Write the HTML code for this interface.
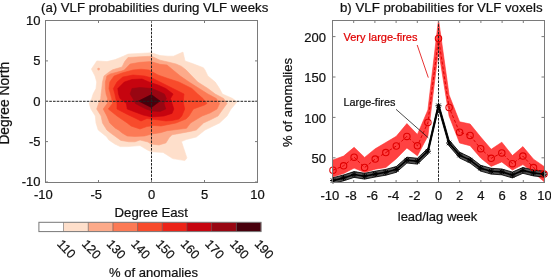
<!DOCTYPE html><html><head><meta charset="utf-8"><style>html,body{margin:0;padding:0;background:#fff;overflow:hidden;}svg{display:block;will-change:transform;}text{font-family:"Liberation Sans",sans-serif;stroke:#111;stroke-width:0.22px;}</style></head><body>
<svg width="551" height="279" viewBox="0 0 551 279">
<rect width="551" height="279" fill="#fff"/>
<defs><clipPath id="ca"><rect x="45.5" y="20.5" width="212" height="161.5"/></clipPath><clipPath id="cb"><rect x="333" y="20.5" width="211" height="161.5"/></clipPath></defs>
<g clip-path="url(#ca)">
<polygon points="91.4,69.1 96.8,60.9 107.0,61.6 115.2,59.6 123.4,56.2 128.0,54.1 140.0,53.4 151.4,52.8 160.0,55.5 168.0,56.2 173.4,56.2 183.0,52.1 185.0,60.9 192.5,63.6 203.4,67.7 205.0,70.0 207.9,76.0 215.2,82.0 219.5,88.5 222.4,94.0 232.7,98.5 237.0,102.0 231.0,109.0 227.0,116.0 219.5,123.0 205.0,130.0 196.3,137.0 186.3,139.5 181.5,141.6 183.5,147.7 186.9,157.9 184.9,160.6 172.7,158.6 163.1,152.4 151.6,151.8 148.2,150.4 140.0,145.6 127.7,146.6 120.2,146.6 114.7,143.9 108.6,139.8 106.9,137.0 98.2,130.0 96.0,123.0 95.3,116.0 90.9,109.0 89.2,103.5 91.7,98.5 93.1,94.0 96.0,88.5 96.7,82.0 95.0,76.0" fill="#FEDFCB" stroke="#FEDFCB" stroke-width="0.6" stroke-linejoin="round"/>
<polygon points="128.0,57.5 140.0,56.8 151.4,56.2 160.0,60.2 168.0,62.0 176.0,64.0 181.6,66.4 186.1,70.0 191.9,76.0 197.7,82.0 207.9,88.5 215.2,94.0 223.7,98.5 227.0,103.5 223.0,109.0 218.0,116.0 210.0,120.0 203.5,123.0 196.3,130.0 190.3,131.4 179.5,133.4 172.0,134.8 169.3,137.5 165.9,142.9 159.0,145.0 150.9,144.0 148.0,142.0 140.0,140.0 135.0,141.8 129.0,141.8 120.9,140.4 116.1,137.0 110.6,133.0 106.9,130.0 102.5,123.0 101.1,116.0 96.7,109.0 98.6,103.5 100.7,98.5 101.1,94.0 101.8,88.5 102.5,82.0 104.0,76.0 108.4,72.5 112.5,69.8 122.0,67.0 124.7,61.6" fill="#FCAA8A" stroke="#FCAA8A" stroke-width="0.6" stroke-linejoin="round"/>
<polygon points="130.1,64.0 140.0,62.3 151.0,61.6 160.0,64.3 167.0,65.0 173.0,70.0 180.3,76.0 189.0,82.0 199.2,88.5 207.9,94.0 216.3,98.5 219.6,103.5 217.0,109.0 210.0,113.0 202.1,116.0 190.5,123.0 186.5,128.3 173.1,130.0 167.2,130.7 160.4,132.7 151.7,134.0 144.6,136.0 135.0,136.4 127.2,136.0 122.2,133.0 118.5,130.0 115.4,128.2 109.8,123.0 106.9,116.0 103.2,109.0 107.2,103.5 107.6,98.5 106.1,94.0 105.4,88.5 105.4,82.0 106.9,76.0 110.4,73.9 121.3,71.1 124.3,70.0" fill="#FC7A55" stroke="#FC7A55" stroke-width="0.6" stroke-linejoin="round"/>
<polygon points="109.8,82.0 114.1,76.0 122.0,73.0 133.0,70.0 141.0,69.2 149.0,70.0 158.0,75.0 168.0,78.5 178.9,82.0 191.9,88.5 197.7,94.0 203.0,98.5 207.0,103.5 204.5,105.0 193.4,109.0 189.0,116.0 186.0,119.0 176.0,123.0 161.0,126.0 154.0,125.5 147.0,126.5 140.0,129.0 131.0,126.0 127.2,123.0 117.0,116.0 108.3,109.0 112.5,103.5 111.7,98.5 110.5,94.0 109.0,88.5" fill="#F84B2B" stroke="#F84B2B" stroke-width="0.6" stroke-linejoin="round"/>
<polygon points="122.8,77.0 128.0,76.0 133.0,75.0 144.6,76.0 152.0,78.0 160.0,82.0 173.0,88.5 184.0,94.0 183.5,98.5 183.5,103.5 184.7,109.0 181.8,116.0 179.0,119.0 172.0,120.5 166.0,121.0 159.0,120.0 147.0,118.5 141.0,121.0 135.0,118.0 127.5,114.5 117.0,109.0 117.0,103.5 115.8,98.5 114.9,94.0 113.4,88.5 117.0,82.0" fill="#EC2318" stroke="#EC2318" stroke-width="0.6" stroke-linejoin="round"/>
<polygon points="124.3,82.0 132.0,79.5 142.0,79.0 149.0,82.0 158.0,85.0 165.8,88.5 173.1,94.0 170.5,98.5 172.1,103.5 173.8,109.0 172.0,113.4 164.0,116.0 151.7,117.0 143.1,115.0 135.0,112.0 127.2,109.0 126.4,103.5 120.0,98.5 118.5,94.0 117.8,88.5" fill="#C6040F" stroke="#C6040F" stroke-width="0.6" stroke-linejoin="round"/>
<polygon points="132.0,88.5 140.0,87.5 152.0,88.5 158.0,91.0 164.4,94.0 166.4,98.5 164.0,103.5 165.8,109.0 160.0,111.5 152.0,111.0 146.1,109.0 140.0,106.0 135.4,103.5 132.9,98.5 130.1,94.0" fill="#980612" stroke="#980612" stroke-width="0.6" stroke-linejoin="round"/>
<polygon points="138.5,101.0 151.4,94.6 160.0,101.0 151.4,107.5" fill="#48000C" stroke="#48000C" stroke-width="0.6" stroke-linejoin="round"/>
<circle cx="98.6" cy="69.1" r="1.3" fill="#FCAA8A"/>
</g>
<line x1="151.5" y1="20.5" x2="151.5" y2="182" stroke="#222" stroke-width="1" stroke-dasharray="2.6,1.15"/>
<line x1="45.5" y1="101.3" x2="257.5" y2="101.3" stroke="#222" stroke-width="1" stroke-dasharray="2.6,1.15"/>
<rect x="45.5" y="20.5" width="212" height="162" fill="none" stroke="#7a7a7a" stroke-width="1"/>
<line x1="45.5" y1="182.5" x2="45.5" y2="180" stroke="#7a7a7a" stroke-width="1"/>
<line x1="45.5" y1="20.5" x2="45.5" y2="23" stroke="#7a7a7a" stroke-width="1"/>
<line x1="98.5" y1="182.5" x2="98.5" y2="180" stroke="#7a7a7a" stroke-width="1"/>
<line x1="98.5" y1="20.5" x2="98.5" y2="23" stroke="#7a7a7a" stroke-width="1"/>
<line x1="151.5" y1="182.5" x2="151.5" y2="180" stroke="#7a7a7a" stroke-width="1"/>
<line x1="151.5" y1="20.5" x2="151.5" y2="23" stroke="#7a7a7a" stroke-width="1"/>
<line x1="204.5" y1="182.5" x2="204.5" y2="180" stroke="#7a7a7a" stroke-width="1"/>
<line x1="204.5" y1="20.5" x2="204.5" y2="23" stroke="#7a7a7a" stroke-width="1"/>
<line x1="257.5" y1="182.5" x2="257.5" y2="180" stroke="#7a7a7a" stroke-width="1"/>
<line x1="257.5" y1="20.5" x2="257.5" y2="23" stroke="#7a7a7a" stroke-width="1"/>
<line x1="45.5" y1="20.5" x2="48" y2="20.5" stroke="#7a7a7a" stroke-width="1"/>
<line x1="257.5" y1="20.5" x2="255" y2="20.5" stroke="#7a7a7a" stroke-width="1"/>
<line x1="45.5" y1="60.9" x2="48" y2="60.9" stroke="#7a7a7a" stroke-width="1"/>
<line x1="257.5" y1="60.9" x2="255" y2="60.9" stroke="#7a7a7a" stroke-width="1"/>
<line x1="45.5" y1="101.25" x2="48" y2="101.25" stroke="#7a7a7a" stroke-width="1"/>
<line x1="257.5" y1="101.25" x2="255" y2="101.25" stroke="#7a7a7a" stroke-width="1"/>
<line x1="45.5" y1="141.6" x2="48" y2="141.6" stroke="#7a7a7a" stroke-width="1"/>
<line x1="257.5" y1="141.6" x2="255" y2="141.6" stroke="#7a7a7a" stroke-width="1"/>
<line x1="45.5" y1="182" x2="48" y2="182" stroke="#7a7a7a" stroke-width="1"/>
<line x1="257.5" y1="182" x2="255" y2="182" stroke="#7a7a7a" stroke-width="1"/>
<text x="43.3" y="198.8" font-size="13" text-anchor="middle" fill="#111">-10</text>
<text x="96.3" y="198.8" font-size="13" text-anchor="middle" fill="#111">-5</text>
<text x="151.5" y="198.8" font-size="13" text-anchor="middle" fill="#111">0</text>
<text x="204.5" y="198.8" font-size="13" text-anchor="middle" fill="#111">5</text>
<text x="257.5" y="198.8" font-size="13" text-anchor="middle" fill="#111">10</text>
<text x="40.5" y="24.9" font-size="13" text-anchor="end" fill="#111">10</text>
<text x="40.5" y="65.3" font-size="13" text-anchor="end" fill="#111">5</text>
<text x="40.5" y="105.65" font-size="13" text-anchor="end" fill="#111">0</text>
<text x="40.5" y="146.0" font-size="13" text-anchor="end" fill="#111">-5</text>
<text x="40.5" y="186.4" font-size="13" text-anchor="end" fill="#111">-10</text>
<text x="41" y="12.4" font-size="13.2" fill="#111">(a) VLF probabilities during VLF weeks</text>
<text x="151.2" y="216.8" font-size="13.2" text-anchor="middle" fill="#111">Degree East</text>
<text transform="translate(9.2,103.2) rotate(-90)" font-size="13.8" text-anchor="middle" fill="#111">Degree North</text>
<rect x="38.9" y="222.3" width="24.68" height="9.3" fill="#fff"/>
<rect x="63.58" y="222.3" width="24.88" height="9.3" fill="#FEDFCB"/>
<rect x="88.26" y="222.3" width="24.88" height="9.3" fill="#FCAA8A"/>
<rect x="112.93" y="222.3" width="24.88" height="9.3" fill="#FC7A55"/>
<rect x="137.61" y="222.3" width="24.88" height="9.3" fill="#F84B2B"/>
<rect x="162.29" y="222.3" width="24.88" height="9.3" fill="#EC2318"/>
<rect x="186.97" y="222.3" width="24.88" height="9.3" fill="#C6040F"/>
<rect x="211.64" y="222.3" width="24.88" height="9.3" fill="#980612"/>
<rect x="236.32" y="222.3" width="24.88" height="9.3" fill="#48000C"/>
<line x1="63.58" y1="222.3" x2="63.58" y2="231.6" stroke="#555" stroke-width="0.8" opacity="0.7"/>
<line x1="88.26" y1="222.3" x2="88.26" y2="231.6" stroke="#555" stroke-width="0.8" opacity="0.7"/>
<line x1="112.93" y1="222.3" x2="112.93" y2="231.6" stroke="#555" stroke-width="0.8" opacity="0.7"/>
<line x1="137.61" y1="222.3" x2="137.61" y2="231.6" stroke="#555" stroke-width="0.8" opacity="0.7"/>
<line x1="162.29" y1="222.3" x2="162.29" y2="231.6" stroke="#555" stroke-width="0.8" opacity="0.7"/>
<line x1="186.97" y1="222.3" x2="186.97" y2="231.6" stroke="#555" stroke-width="0.8" opacity="0.7"/>
<line x1="211.64" y1="222.3" x2="211.64" y2="231.6" stroke="#555" stroke-width="0.8" opacity="0.7"/>
<line x1="236.32" y1="222.3" x2="236.32" y2="231.6" stroke="#555" stroke-width="0.8" opacity="0.7"/>
<rect x="38.9" y="222.3" width="222.10" height="9.3" fill="none" stroke="#777" stroke-width="1"/>
<text transform="translate(56.6,244.5) rotate(47)" font-size="12.5" fill="#111">110</text>
<text transform="translate(81.3,244.5) rotate(47)" font-size="12.5" fill="#111">120</text>
<text transform="translate(105.9,244.5) rotate(47)" font-size="12.5" fill="#111">130</text>
<text transform="translate(130.6,244.5) rotate(47)" font-size="12.5" fill="#111">140</text>
<text transform="translate(155.3,244.5) rotate(47)" font-size="12.5" fill="#111">150</text>
<text transform="translate(180.0,244.5) rotate(47)" font-size="12.5" fill="#111">160</text>
<text transform="translate(204.6,244.5) rotate(47)" font-size="12.5" fill="#111">170</text>
<text transform="translate(229.3,244.5) rotate(47)" font-size="12.5" fill="#111">180</text>
<text transform="translate(254.0,244.5) rotate(47)" font-size="12.5" fill="#111">190</text>
<text x="153.5" y="277" font-size="13" text-anchor="middle" fill="#111">% of anomalies</text>
<g clip-path="url(#cb)">
<polygon points="333.0,159.9 343.6,156.1 354.1,147.3 364.6,157.4 375.2,148.8 385.8,142.5 396.3,136.3 406.9,123.6 417.4,134.4 427.9,110.0 438.5,19.5 449.1,95.0 459.6,121.8 470.1,124.0 480.7,137.0 491.2,149.3 501.8,142.2 512.4,155.6 522.9,146.6 533.5,159.2 544.0,166.4 544.0,181.6 533.5,172.6 522.9,164.6 512.4,170.0 501.8,161.9 491.2,166.4 480.7,158.0 470.1,145.7 459.6,143.0 449.1,116.0 438.5,50.0 427.9,136.0 417.4,155.8 406.9,147.9 396.3,158.7 385.8,167.5 375.2,169.2 364.6,172.4 354.1,168.1 343.6,173.5 333.0,176.8" fill="#FF4242" stroke="#FF3333" stroke-width="0.6" stroke-linejoin="round"/>
<polygon points="333.0,177.7 343.6,175.0 354.1,171.6 364.6,173.3 375.2,171.2 385.8,169.4 396.3,166.5 406.9,157.2 417.4,158.3 427.9,148.3 438.5,102.9 449.1,140.1 459.6,152.2 470.1,157.2 480.7,165.3 491.2,168.3 501.8,169.0 512.4,172.1 522.9,167.5 533.5,170.1 544.0,171.3 544.0,177.1 533.5,175.9 522.9,173.3 512.4,177.9 501.8,174.8 491.2,174.1 480.7,171.1 470.1,163.0 459.6,158.0 449.1,145.9 438.5,108.7 427.9,154.1 417.4,164.1 406.9,163.0 396.3,172.3 385.8,175.2 375.2,177.0 364.6,179.1 354.1,177.4 343.6,180.8 333.0,183.5" fill="#555" stroke="#000" stroke-width="0.85" stroke-linejoin="round"/>
</g>
<line x1="438.5" y1="20.5" x2="438.5" y2="182" stroke="#222" stroke-width="1" stroke-dasharray="2.6,1.15"/>
<polyline points="333.0,170.2 343.6,165.8 354.1,157.2 364.6,167.5 375.2,159.1 385.8,152.6 396.3,146.0 406.9,136.4 417.4,145.8 427.9,122.5 438.5,38.5 449.1,107.5 459.6,132.2 470.1,135.4 480.7,148.7 491.2,158.3 501.8,152.9 512.4,163.7 522.9,156.1 533.5,167.6 544.0,174.1" fill="none" stroke="#E00000" stroke-width="1" stroke-dasharray="3,2"/>
<circle cx="333.0" cy="170.2" r="3.2" fill="none" stroke="#E00000" stroke-width="1.1"/>
<circle cx="343.6" cy="165.8" r="3.2" fill="none" stroke="#E00000" stroke-width="1.1"/>
<circle cx="354.1" cy="157.2" r="3.2" fill="none" stroke="#E00000" stroke-width="1.1"/>
<circle cx="364.6" cy="167.5" r="3.2" fill="none" stroke="#E00000" stroke-width="1.1"/>
<circle cx="375.2" cy="159.1" r="3.2" fill="none" stroke="#E00000" stroke-width="1.1"/>
<circle cx="385.8" cy="152.6" r="3.2" fill="none" stroke="#E00000" stroke-width="1.1"/>
<circle cx="396.3" cy="146.0" r="3.2" fill="none" stroke="#E00000" stroke-width="1.1"/>
<circle cx="406.9" cy="136.4" r="3.2" fill="none" stroke="#E00000" stroke-width="1.1"/>
<circle cx="417.4" cy="145.8" r="3.2" fill="none" stroke="#E00000" stroke-width="1.1"/>
<circle cx="427.9" cy="122.5" r="3.2" fill="none" stroke="#E00000" stroke-width="1.1"/>
<circle cx="438.5" cy="38.5" r="3.2" fill="none" stroke="#E00000" stroke-width="1.1"/>
<circle cx="449.1" cy="107.5" r="3.2" fill="none" stroke="#E00000" stroke-width="1.1"/>
<circle cx="459.6" cy="132.2" r="3.2" fill="none" stroke="#E00000" stroke-width="1.1"/>
<circle cx="470.1" cy="135.4" r="3.2" fill="none" stroke="#E00000" stroke-width="1.1"/>
<circle cx="480.7" cy="148.7" r="3.2" fill="none" stroke="#E00000" stroke-width="1.1"/>
<circle cx="491.2" cy="158.3" r="3.2" fill="none" stroke="#E00000" stroke-width="1.1"/>
<circle cx="501.8" cy="152.9" r="3.2" fill="none" stroke="#E00000" stroke-width="1.1"/>
<circle cx="512.4" cy="163.7" r="3.2" fill="none" stroke="#E00000" stroke-width="1.1"/>
<circle cx="522.9" cy="156.1" r="3.2" fill="none" stroke="#E00000" stroke-width="1.1"/>
<circle cx="533.5" cy="167.6" r="3.2" fill="none" stroke="#E00000" stroke-width="1.1"/>
<circle cx="544.0" cy="174.1" r="3.2" fill="none" stroke="#E00000" stroke-width="1.1"/>
<polyline points="333.0,180.6 343.6,177.9 354.1,174.5 364.6,176.2 375.2,174.1 385.8,172.3 396.3,169.4 406.9,160.1 417.4,161.2 427.9,151.2 438.5,105.8 449.1,143.0 459.6,155.1 470.1,160.1 480.7,168.2 491.2,171.2 501.8,171.9 512.4,175.0 522.9,170.4 533.5,173.0 544.0,174.2" fill="none" stroke="#000" stroke-width="1.6"/>
<g stroke="#000" stroke-width="1"><line x1="330.0" y1="180.6" x2="336.0" y2="180.6"/><line x1="333.0" y1="177.6" x2="333.0" y2="183.6"/><line x1="330.8" y1="178.4" x2="335.2" y2="182.79999999999998"/><line x1="330.8" y1="182.79999999999998" x2="335.2" y2="178.4"/></g>
<g stroke="#000" stroke-width="1"><line x1="340.55" y1="177.9" x2="346.55" y2="177.9"/><line x1="343.55" y1="174.9" x2="343.55" y2="180.9"/><line x1="341.35" y1="175.70000000000002" x2="345.75" y2="180.1"/><line x1="341.35" y1="180.1" x2="345.75" y2="175.70000000000002"/></g>
<g stroke="#000" stroke-width="1"><line x1="351.1" y1="174.5" x2="357.1" y2="174.5"/><line x1="354.1" y1="171.5" x2="354.1" y2="177.5"/><line x1="351.90000000000003" y1="172.3" x2="356.3" y2="176.7"/><line x1="351.90000000000003" y1="176.7" x2="356.3" y2="172.3"/></g>
<g stroke="#000" stroke-width="1"><line x1="361.65" y1="176.2" x2="367.65" y2="176.2"/><line x1="364.65" y1="173.2" x2="364.65" y2="179.2"/><line x1="362.45" y1="174.0" x2="366.84999999999997" y2="178.39999999999998"/><line x1="362.45" y1="178.39999999999998" x2="366.84999999999997" y2="174.0"/></g>
<g stroke="#000" stroke-width="1"><line x1="372.2" y1="174.1" x2="378.2" y2="174.1"/><line x1="375.2" y1="171.1" x2="375.2" y2="177.1"/><line x1="373.0" y1="171.9" x2="377.4" y2="176.29999999999998"/><line x1="373.0" y1="176.29999999999998" x2="377.4" y2="171.9"/></g>
<g stroke="#000" stroke-width="1"><line x1="382.75" y1="172.3" x2="388.75" y2="172.3"/><line x1="385.75" y1="169.3" x2="385.75" y2="175.3"/><line x1="383.55" y1="170.10000000000002" x2="387.95" y2="174.5"/><line x1="383.55" y1="174.5" x2="387.95" y2="170.10000000000002"/></g>
<g stroke="#000" stroke-width="1"><line x1="393.3" y1="169.4" x2="399.3" y2="169.4"/><line x1="396.3" y1="166.4" x2="396.3" y2="172.4"/><line x1="394.1" y1="167.20000000000002" x2="398.5" y2="171.6"/><line x1="394.1" y1="171.6" x2="398.5" y2="167.20000000000002"/></g>
<g stroke="#000" stroke-width="1"><line x1="403.85" y1="160.1" x2="409.85" y2="160.1"/><line x1="406.85" y1="157.1" x2="406.85" y2="163.1"/><line x1="404.65000000000003" y1="157.9" x2="409.05" y2="162.29999999999998"/><line x1="404.65000000000003" y1="162.29999999999998" x2="409.05" y2="157.9"/></g>
<g stroke="#000" stroke-width="1"><line x1="414.4" y1="161.2" x2="420.4" y2="161.2"/><line x1="417.4" y1="158.2" x2="417.4" y2="164.2"/><line x1="415.2" y1="159.0" x2="419.59999999999997" y2="163.39999999999998"/><line x1="415.2" y1="163.39999999999998" x2="419.59999999999997" y2="159.0"/></g>
<g stroke="#000" stroke-width="1"><line x1="424.95" y1="151.2" x2="430.95" y2="151.2"/><line x1="427.95" y1="148.2" x2="427.95" y2="154.2"/><line x1="425.75" y1="149.0" x2="430.15" y2="153.39999999999998"/><line x1="425.75" y1="153.39999999999998" x2="430.15" y2="149.0"/></g>
<g stroke="#000" stroke-width="1"><line x1="435.5" y1="105.8" x2="441.5" y2="105.8"/><line x1="438.5" y1="102.8" x2="438.5" y2="108.8"/><line x1="436.3" y1="103.6" x2="440.7" y2="108.0"/><line x1="436.3" y1="108.0" x2="440.7" y2="103.6"/></g>
<g stroke="#000" stroke-width="1"><line x1="446.05" y1="143" x2="452.05" y2="143"/><line x1="449.05" y1="140" x2="449.05" y2="146"/><line x1="446.85" y1="140.8" x2="451.25" y2="145.2"/><line x1="446.85" y1="145.2" x2="451.25" y2="140.8"/></g>
<g stroke="#000" stroke-width="1"><line x1="456.6" y1="155.1" x2="462.6" y2="155.1"/><line x1="459.6" y1="152.1" x2="459.6" y2="158.1"/><line x1="457.40000000000003" y1="152.9" x2="461.8" y2="157.29999999999998"/><line x1="457.40000000000003" y1="157.29999999999998" x2="461.8" y2="152.9"/></g>
<g stroke="#000" stroke-width="1"><line x1="467.15" y1="160.1" x2="473.15" y2="160.1"/><line x1="470.15" y1="157.1" x2="470.15" y2="163.1"/><line x1="467.95" y1="157.9" x2="472.34999999999997" y2="162.29999999999998"/><line x1="467.95" y1="162.29999999999998" x2="472.34999999999997" y2="157.9"/></g>
<g stroke="#000" stroke-width="1"><line x1="477.70000000000005" y1="168.2" x2="483.70000000000005" y2="168.2"/><line x1="480.70000000000005" y1="165.2" x2="480.70000000000005" y2="171.2"/><line x1="478.50000000000006" y1="166.0" x2="482.90000000000003" y2="170.39999999999998"/><line x1="478.50000000000006" y1="170.39999999999998" x2="482.90000000000003" y2="166.0"/></g>
<g stroke="#000" stroke-width="1"><line x1="488.25" y1="171.2" x2="494.25" y2="171.2"/><line x1="491.25" y1="168.2" x2="491.25" y2="174.2"/><line x1="489.05" y1="169.0" x2="493.45" y2="173.39999999999998"/><line x1="489.05" y1="173.39999999999998" x2="493.45" y2="169.0"/></g>
<g stroke="#000" stroke-width="1"><line x1="498.8" y1="171.9" x2="504.8" y2="171.9"/><line x1="501.8" y1="168.9" x2="501.8" y2="174.9"/><line x1="499.6" y1="169.70000000000002" x2="504.0" y2="174.1"/><line x1="499.6" y1="174.1" x2="504.0" y2="169.70000000000002"/></g>
<g stroke="#000" stroke-width="1"><line x1="509.35" y1="175" x2="515.35" y2="175"/><line x1="512.35" y1="172" x2="512.35" y2="178"/><line x1="510.15000000000003" y1="172.8" x2="514.5500000000001" y2="177.2"/><line x1="510.15000000000003" y1="177.2" x2="514.5500000000001" y2="172.8"/></g>
<g stroke="#000" stroke-width="1"><line x1="519.9" y1="170.4" x2="525.9" y2="170.4"/><line x1="522.9" y1="167.4" x2="522.9" y2="173.4"/><line x1="520.6999999999999" y1="168.20000000000002" x2="525.1" y2="172.6"/><line x1="520.6999999999999" y1="172.6" x2="525.1" y2="168.20000000000002"/></g>
<g stroke="#000" stroke-width="1"><line x1="530.45" y1="173" x2="536.45" y2="173"/><line x1="533.45" y1="170" x2="533.45" y2="176"/><line x1="531.25" y1="170.8" x2="535.6500000000001" y2="175.2"/><line x1="531.25" y1="175.2" x2="535.6500000000001" y2="170.8"/></g>
<g stroke="#000" stroke-width="1"><line x1="541.0" y1="174.2" x2="547.0" y2="174.2"/><line x1="544.0" y1="171.2" x2="544.0" y2="177.2"/><line x1="541.8" y1="172.0" x2="546.2" y2="176.39999999999998"/><line x1="541.8" y1="176.39999999999998" x2="546.2" y2="172.0"/></g>
<rect x="332.5" y="20.5" width="212" height="162" fill="none" stroke="#7a7a7a" stroke-width="1"/>
<line x1="332.5" y1="182.5" x2="332.5" y2="180" stroke="#7a7a7a" stroke-width="1"/>
<line x1="332.5" y1="20.5" x2="332.5" y2="23" stroke="#7a7a7a" stroke-width="1"/>
<line x1="353.7" y1="182.5" x2="353.7" y2="180" stroke="#7a7a7a" stroke-width="1"/>
<line x1="353.7" y1="20.5" x2="353.7" y2="23" stroke="#7a7a7a" stroke-width="1"/>
<line x1="374.9" y1="182.5" x2="374.9" y2="180" stroke="#7a7a7a" stroke-width="1"/>
<line x1="374.9" y1="20.5" x2="374.9" y2="23" stroke="#7a7a7a" stroke-width="1"/>
<line x1="396.1" y1="182.5" x2="396.1" y2="180" stroke="#7a7a7a" stroke-width="1"/>
<line x1="396.1" y1="20.5" x2="396.1" y2="23" stroke="#7a7a7a" stroke-width="1"/>
<line x1="417.3" y1="182.5" x2="417.3" y2="180" stroke="#7a7a7a" stroke-width="1"/>
<line x1="417.3" y1="20.5" x2="417.3" y2="23" stroke="#7a7a7a" stroke-width="1"/>
<line x1="438.5" y1="182.5" x2="438.5" y2="180" stroke="#7a7a7a" stroke-width="1"/>
<line x1="438.5" y1="20.5" x2="438.5" y2="23" stroke="#7a7a7a" stroke-width="1"/>
<line x1="459.7" y1="182.5" x2="459.7" y2="180" stroke="#7a7a7a" stroke-width="1"/>
<line x1="459.7" y1="20.5" x2="459.7" y2="23" stroke="#7a7a7a" stroke-width="1"/>
<line x1="480.9" y1="182.5" x2="480.9" y2="180" stroke="#7a7a7a" stroke-width="1"/>
<line x1="480.9" y1="20.5" x2="480.9" y2="23" stroke="#7a7a7a" stroke-width="1"/>
<line x1="502.1" y1="182.5" x2="502.1" y2="180" stroke="#7a7a7a" stroke-width="1"/>
<line x1="502.1" y1="20.5" x2="502.1" y2="23" stroke="#7a7a7a" stroke-width="1"/>
<line x1="523.3" y1="182.5" x2="523.3" y2="180" stroke="#7a7a7a" stroke-width="1"/>
<line x1="523.3" y1="20.5" x2="523.3" y2="23" stroke="#7a7a7a" stroke-width="1"/>
<line x1="544.5" y1="182.5" x2="544.5" y2="180" stroke="#7a7a7a" stroke-width="1"/>
<line x1="544.5" y1="20.5" x2="544.5" y2="23" stroke="#7a7a7a" stroke-width="1"/>
<line x1="333" y1="157.8" x2="335.5" y2="157.8" stroke="#7a7a7a" stroke-width="1"/>
<line x1="544" y1="157.8" x2="541.5" y2="157.8" stroke="#7a7a7a" stroke-width="1"/>
<text x="326" y="162.9" font-size="13" text-anchor="end" fill="#111">50</text>
<line x1="333" y1="117.4" x2="335.5" y2="117.4" stroke="#7a7a7a" stroke-width="1"/>
<line x1="544" y1="117.4" x2="541.5" y2="117.4" stroke="#7a7a7a" stroke-width="1"/>
<text x="326" y="122.5" font-size="13" text-anchor="end" fill="#111">100</text>
<line x1="333" y1="77.0" x2="335.5" y2="77.0" stroke="#7a7a7a" stroke-width="1"/>
<line x1="544" y1="77.0" x2="541.5" y2="77.0" stroke="#7a7a7a" stroke-width="1"/>
<text x="326" y="82.1" font-size="13" text-anchor="end" fill="#111">150</text>
<line x1="333" y1="36.6" x2="335.5" y2="36.6" stroke="#7a7a7a" stroke-width="1"/>
<line x1="544" y1="36.6" x2="541.5" y2="36.6" stroke="#7a7a7a" stroke-width="1"/>
<text x="326" y="41.8" font-size="13" text-anchor="end" fill="#111">200</text>
<text x="329.8" y="200.3" font-size="13" text-anchor="middle" fill="#111">-10</text>
<text x="351.0" y="200.3" font-size="13" text-anchor="middle" fill="#111">-8</text>
<text x="372.2" y="200.3" font-size="13" text-anchor="middle" fill="#111">-6</text>
<text x="393.4" y="200.3" font-size="13" text-anchor="middle" fill="#111">-4</text>
<text x="414.6" y="200.3" font-size="13" text-anchor="middle" fill="#111">-2</text>
<text x="438.5" y="200.3" font-size="13" text-anchor="middle" fill="#111">0</text>
<text x="459.7" y="200.3" font-size="13" text-anchor="middle" fill="#111">2</text>
<text x="480.9" y="200.3" font-size="13" text-anchor="middle" fill="#111">4</text>
<text x="502.1" y="200.3" font-size="13" text-anchor="middle" fill="#111">6</text>
<text x="523.3" y="200.3" font-size="13" text-anchor="middle" fill="#111">8</text>
<text x="544.5" y="200.3" font-size="13" text-anchor="middle" fill="#111">10</text>
<text x="340" y="12.4" font-size="13.25" fill="#111">b) VLF probabilities for VLF voxels</text>
<text x="437.5" y="220.5" font-size="13" text-anchor="middle" fill="#111">lead/lag week</text>
<text transform="translate(291.5,102.5) rotate(-90)" font-size="13" text-anchor="middle" fill="#111">% of anomalies</text>
<text x="343.5" y="41" font-size="11" fill="#E00000" style="stroke:#E00000">Very large-fires</text>
<line x1="417.2" y1="45" x2="428.3" y2="77.6" stroke="#E00000" stroke-width="0.8"/>
<text x="343.4" y="106" font-size="10.9" fill="#111">Large-fires</text>
<line x1="396" y1="109.3" x2="428.3" y2="137.8" stroke="#111" stroke-width="0.75"/>
</svg></body></html>
